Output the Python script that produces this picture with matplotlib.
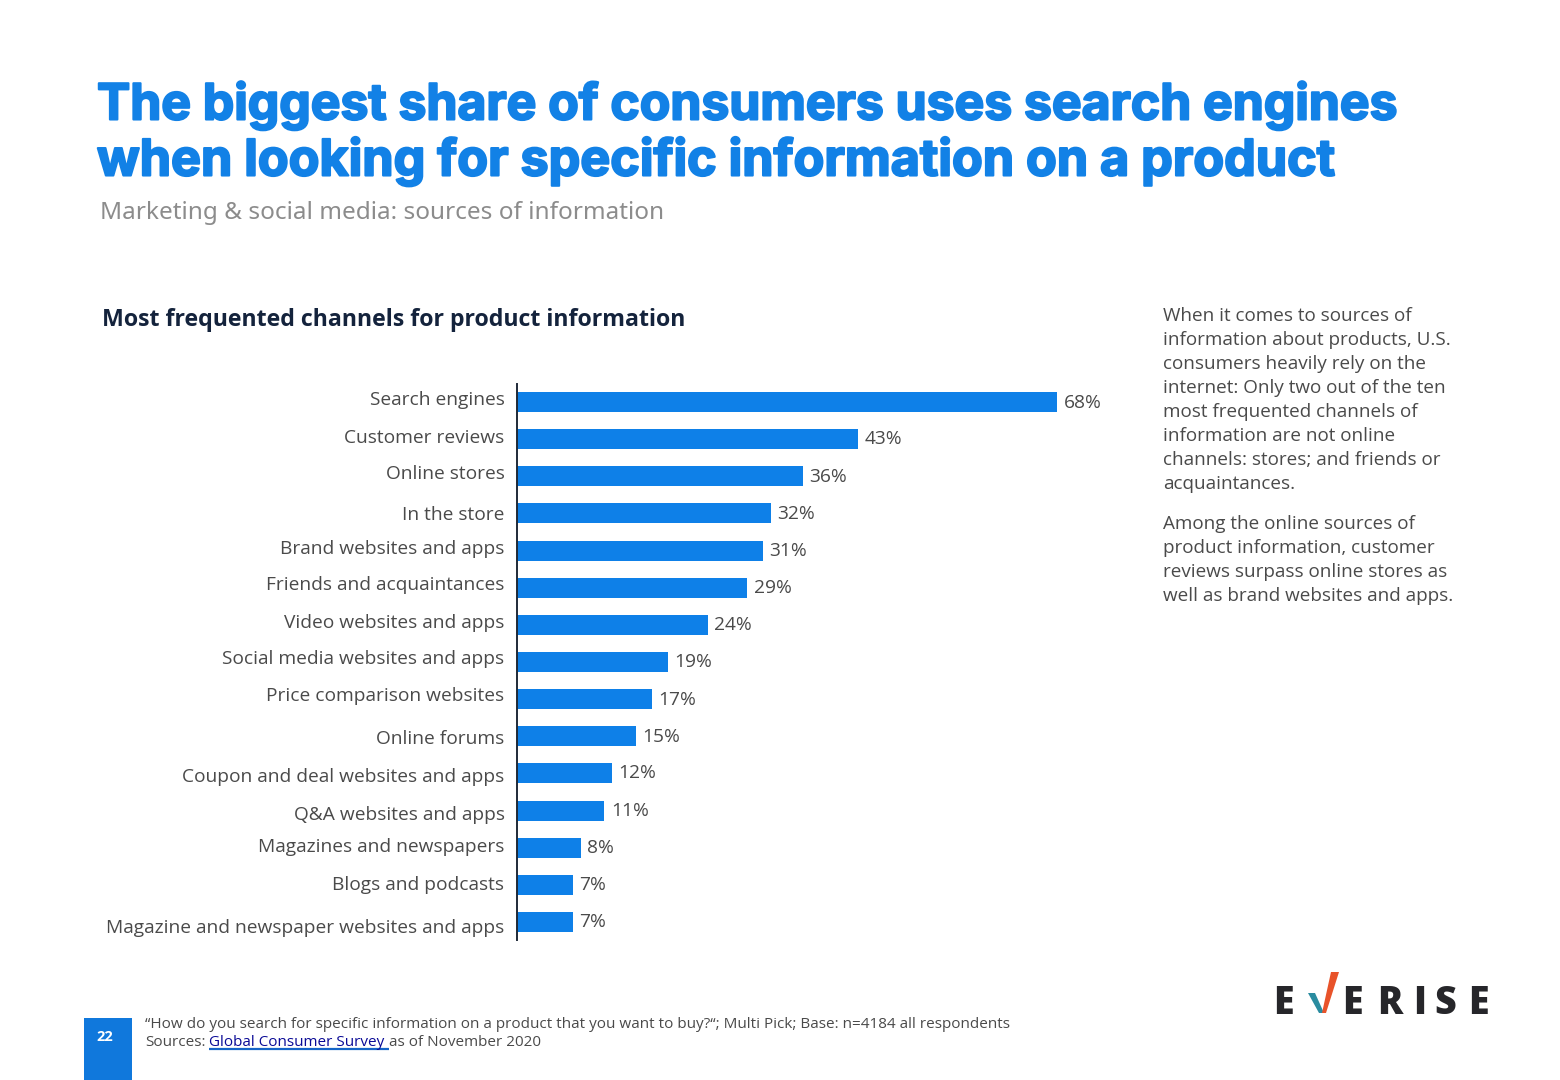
import matplotlib
matplotlib.use("Agg")
import matplotlib.pyplot as plt
import matplotlib.patheffects as pe
from matplotlib.patches import Polygon, Rectangle
from matplotlib.transforms import ScaledTranslation

categories = ["Search engines", "Customer reviews", "Online stores", "In the store",
              "Brand websites and apps", "Friends and acquaintances", "Video websites and apps",
              "Social media websites and apps", "Price comparison websites", "Online forums",
              "Coupon and deal websites and apps", "Q&A websites and apps",
              "Magazines and newspapers", "Blogs and podcasts",
              "Magazine and newspaper websites and apps"]
values = [68, 43, 36, 32, 31, 29, 24, 19, 17, 15, 12, 11, 8, 7, 7]
label_shift_px = [-4, -3, -4, 0, -4, -5, -4, -5, -5, 1, 2, 2, -3, -2, 4]
value_shift_px = [1, 0, 1, 1, 0, 0, 0, 0, 1, 1, 0, 0, 0, 0, 0]

BLUE = "#0E80E8"
TEXT = "#4A4A4A"
W, H = 1560, 1080
fig = plt.figure(figsize=(W / 100, H / 100), dpi=100, facecolor="white")
plt.rcParams["font.family"] = ["Open Sans", "DejaVu Sans"]

bg = fig.add_axes([0, 0, 1, 1])
bg.set_xlim(0, W)
bg.set_ylim(H, 0)
bg.axis("off")

def t(x, y, s, size, color=TEXT, weight="normal", family="Open Sans", ha="left", **kw):
    return bg.text(x, y, s, fontsize=size, color=color, fontweight=weight, family=family,
                   ha=ha, va="center", **kw)

stroke = [pe.withStroke(linewidth=1.5, foreground="#1281E6")]
t(97, 105, "The biggest share of consumers uses search engines", 35.9, "#1281E6", "bold", "Inter",
  path_effects=stroke)
t(97, 161, "when looking for specific information on a product", 36.2, "#1281E6", "bold", "Inter",
  path_effects=stroke)
t(100, 213, "Marketing & social media: sources of information", 17.5, "#8C8C8C", family="Noto Sans")
t(102, 320, "Most frequented channels for product information", 16.65, "#14233C", "bold", "Open Sans")

para1 = ["When it comes to sources of", "information about products, U.S.",
         "consumers heavily rely on the", "internet: Only two out of the ten",
         "most frequented channels of", "information are not online",
         "channels: stores; and friends or", "acquaintances."]
para2 = ["Among the online sources of", "product information, customer",
         "reviews surpass online stores as", "well as brand websites and apps."]
for i, line in enumerate(para1):
    t(1163, 316 + 24 * i, line, 13.6)
for i, line in enumerate(para2):
    t(1163, 524 + 24 * i, line, 13.6)

bg.add_patch(Rectangle((84, 1018), 48, 62, color="#1078DC", lw=0))
t(105, 1037, "22", 10.5, "white", "bold", ha="center")
t(145, 1024, "\u201cHow do you search for specific information on a product that you want to buy?\u201c; Multi Pick; Base: n=4184 all respondents", 10.95)
t(145, 1043, "Sources:", 10.95)
t(209, 1043, "Global Consumer Survey", 10.95, "#0A0A96")
t(389, 1043, "as of November 2020", 10.95)
bg.plot([209, 389], [1048.5, 1048.5], color="#1565C8", lw=1.6, solid_capstyle="butt")

for x, ch in zip([1283.5, 1352.5, 1390, 1420, 1445, 1478.5], "EERISE"):
    bg.text(x, 1004, ch, fontsize=27, fontweight="heavy", family="Open Sans",
            color="#26262A", ha="center", va="center")
bg.add_patch(Polygon([(1308, 993), (1315, 993), (1324, 1013), (1319, 1013)], color="#2A8CA0", lw=0))
bg.add_patch(Polygon([(1322, 1013), (1331, 972), (1339, 972), (1326, 1013)], color="#E8532A", lw=0))

y0, step = 402, 37.14
ax = fig.add_axes([517 / W, 1 - 940 / H, 540 / W, 556 / H])
ax.patch.set_alpha(0)
ypos = list(range(len(values)))
bars = ax.barh(ypos, values, height=0.54, color=BLUE)
ax.set_xlim(0, 68)
ax.set_ylim(14 + (940 - 922) / step, -(402 - 384) / step)
for s in ["top", "right", "bottom"]:
    ax.spines[s].set_visible(False)
ax.spines["left"].set_color("#1F2A38")
ax.spines["left"].set_linewidth(1.4)
ax.set_xticks([])
ax.set_yticks(ypos)
ax.set_yticklabels(categories, fontsize=13.8, color=TEXT)
ax.tick_params(axis="y", length=0, pad=9)
for lab, dy in zip(ax.get_yticklabels(), label_shift_px):
    lab.set_transform(lab.get_transform() + ScaledTranslation(0, -dy / 100, fig.dpi_scale_trans))

for b, v, dy in zip(bars, values, value_shift_px):
    ax.annotate(f"{v}%", (v, b.get_y() + b.get_height() / 2), xytext=(4.6, -dy * 0.72),
                textcoords="offset points", va="center", ha="left",
                fontsize=13.8, color=TEXT, clip_on=False)

fig.savefig("out.png", dpi=100)
